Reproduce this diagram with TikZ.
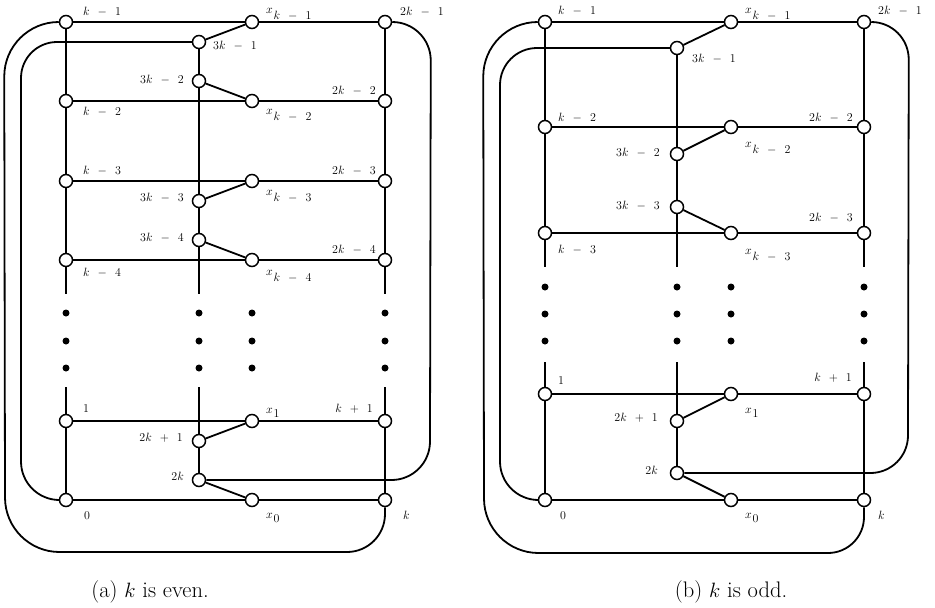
\documentclass[tikz,border=0pt]{standalone}
\newcommand{\Mn}{\;\,-\;\,}
\newcommand{\Pl}{\;\,+\;\,}
\newcommand{\Xl}[2]{$x\kern0.8pt\lower#1pt\hbox{$#2$}$}
\tikzset{
  v/.style={circle,draw,fill=white,minimum size=13pt,inner sep=0pt,line width=1.5pt},
  e/.style={line width=1.8pt},
  lab/.style={font=\fontsize{12}{14}\selectfont,inner sep=0pt},
  capstyle/.style={font=\fontsize{22.5}{26}\selectfont,inner sep=0pt,anchor=base},
}
\begin{document}
\begin{tikzpicture}[x=1pt,y=-1pt]
\useasboundingbox (0,0) rectangle (935,608);
% ---------------- (a) ----------------
\coordinate (aLt) at (66,294); \coordinate (aLb) at (66,387);
\coordinate (aMt) at (199,294); \coordinate (aMb) at (199,387);
\coordinate (aRt) at (385,294); \coordinate (aRb) at (385,387);
\foreach \xx in {66,199,252,385} \foreach \yy in {313,341,368} \fill (\xx,\yy) circle[radius=3.5];
\node[v] (a1) at (66,22) {};
\node[v] (ax1) at (252,22) {};
\node[v] (a21) at (385,22) {};
\node[v] (a31) at (199,42) {};
\node[v] (a32) at (199,81) {};
\node[v] (a2) at (66,101) {};
\node[v] (ax2) at (252,101) {};
\node[v] (a22) at (385,101) {};
\node[v] (a3) at (66,181) {};
\node[v] (ax3) at (252,181) {};
\node[v] (a23) at (385,181) {};
\node[v] (a33) at (199,201) {};
\node[v] (a34) at (199,240) {};
\node[v] (a4) at (66,260) {};
\node[v] (ax4) at (252,260) {};
\node[v] (a24) at (385,260) {};
\node[v] (aone) at (66,421) {};
\node[v] (axone) at (252,421) {};
\node[v] (akp) at (385,421) {};
\node[v] (a2kp) at (199,441) {};
\node[v] (a2k) at (199,480) {};
\node[v] (azero) at (66,500) {};
\node[v] (axzero) at (252,500) {};
\node[v] (ak) at (385,500) {};
\draw[e] (a1) -- (ax1) -- (a21);
\draw[e] (ax1) -- (a31);
\draw[e] (a31) -- (a32) -- (a33) -- (a34) -- (aMt);
\draw[e] (a32) -- (ax2);
\draw[e] (a2) -- (ax2) -- (a22);
\draw[e] (a3) -- (ax3) -- (a23);
\draw[e] (ax3) -- (a33);
\draw[e] (a34) -- (ax4);
\draw[e] (a4) -- (ax4) -- (a24);
\draw[e] (a1) -- (a2) -- (a3) -- (a4) -- (aLt);
\draw[e] (a21) -- (a22) -- (a23) -- (a24) -- (aRt);
\draw[e] (aLb) -- (aone) -- (azero);
\draw[e] (aMb) -- (a2kp) -- (a2k);
\draw[e] (aRb) -- (akp) -- (ak);
\draw[e] (aone) -- (axone) -- (akp);
\draw[e] (axone) -- (a2kp);
\draw[e] (a2k) -- (axzero);
\draw[e] (azero) -- (axzero) -- (ak);
\draw[e] (a1.west) arc[start angle=270,end angle=180,radius=54.5] -- (5,497.5)
  arc[start angle=180,end angle=90,radius=54.5] -- (347,552)
  arc[start angle=90,end angle=0,radius=38] -- (ak.south);
\draw[e] (a31.west) -- (57,42) arc[start angle=270,end angle=180,radius=36] -- (21,461.5)
  arc[start angle=180,end angle=90,radius=38.5] -- (azero.west);
\draw[e] (a21.east) arc[start angle=270,end angle=360,radius=38.5] -- (430,441.5)
  arc[start angle=0,end angle=90,radius=38.5] -- (a2k.east);
% labels (a)
\node[lab,anchor=base west] (la1) at (83,15) {$k\Mn1$};
\node[lab,anchor=base west] (lax1) at (266,13) {\Xl{6.5}{k\Mn1}};
\node[lab,anchor=base west] (la21) at (400,15) {$2k\Mn1$};
\node[lab,anchor=base west] (la31) at (213,49) {$3k\Mn1$};
\node[lab,anchor=base east] (la32) at (184,83) {$3k\Mn2$};
\node[lab,anchor=base west] (la2) at (83,115) {$k\Mn2$};
\node[lab,anchor=base west] (lax2) at (266,114) {\Xl{6.5}{k\Mn2}};
\node[lab,anchor=base east] (la22) at (376,94) {$2k\Mn2$};
\node[lab,anchor=base west] (la3) at (83,174) {$k\Mn3$};
\node[lab,anchor=base east] (la23) at (376,174) {$2k\Mn3$};
\node[lab,anchor=base east] (la33) at (184,201) {$3k\Mn3$};
\node[lab,anchor=base west] (lax3) at (266,195) {\Xl{6.5}{k\Mn3}};
\node[lab,anchor=base east] (la34) at (184,241) {$3k\Mn4$};
\node[lab,anchor=base east] (la24) at (376,253) {$2k\Mn4$};
\node[lab,anchor=base west] (la4) at (83,276) {$k\Mn4$};
\node[lab,anchor=base west] (lax4) at (266,275) {\Xl{6.5}{k\Mn4}};
\node[lab,anchor=base west] (laone) at (83,412) {$1$};
\node[lab,anchor=base west] (laxone) at (266,413) {\Xl{4.5}{1}};
\node[lab,anchor=base east] (lakp) at (373,412) {$k\Pl1$};
\node[lab,anchor=base east] (la2kp) at (183,441) {$2k\Pl1$};
\node[lab,anchor=base east] (la2k) at (184,480) {$2k$};
\node[lab,anchor=base west] (lazero) at (84,519) {$0$};
\node[lab,anchor=base west] (laxzero) at (266,518) {\Xl{4.5}{0}};
\node[lab,anchor=base west] (lak) at (403,519) {$k$};
\node[capstyle] (capa) at (150,597) {(a) $k$ is even.};
% ---------------- (b) ----------------
\coordinate (bLt) at (545,267); \coordinate (bLb) at (545,362);
\coordinate (bMt) at (677,267); \coordinate (bMb) at (677,362);
\coordinate (bRt) at (864,267); \coordinate (bRb) at (864,362);
\foreach \xx in {545,677,731,864} \foreach \yy in {287,314,341} \fill (\xx,\yy) circle[radius=3.5];
\node[v] (b1) at (545,22) {};
\node[v] (bx1) at (731,22) {};
\node[v] (b21) at (864,22) {};
\node[v] (b31) at (677,48) {};
\node[v] (b2) at (545,127) {};
\node[v] (bx2) at (731,127) {};
\node[v] (b22) at (864,127) {};
\node[v] (b32) at (677,154) {};
\node[v] (b33) at (677,207) {};
\node[v] (b3) at (545,233) {};
\node[v] (bx3) at (731,233) {};
\node[v] (b23) at (864,233) {};
\node[v] (bone) at (545,394) {};
\node[v] (bxone) at (731,394) {};
\node[v] (bkp) at (864,394) {};
\node[v] (b2kp) at (677,421) {};
\node[v] (b2k) at (677,473) {};
\node[v] (bzero) at (545,500) {};
\node[v] (bxzero) at (731,500) {};
\node[v] (bk) at (864,500) {};
\draw[e] (b1) -- (bx1) -- (b21);
\draw[e] (bx1) -- (b31);
\draw[e] (b31) -- (b32) -- (b33) -- (bMt);
\draw[e] (bx2) -- (b32);
\draw[e] (b2) -- (bx2) -- (b22);
\draw[e] (b33) -- (bx3);
\draw[e] (b3) -- (bx3) -- (b23);
\draw[e] (b1) -- (b2) -- (b3) -- (bLt);
\draw[e] (b21) -- (b22) -- (b23) -- (bRt);
\draw[e] (bLb) -- (bone) -- (bzero);
\draw[e] (bMb) -- (b2kp) -- (b2k);
\draw[e] (bRb) -- (bkp) -- (bk);
\draw[e] (bone) -- (bxone) -- (bkp);
\draw[e] (bxone) -- (b2kp);
\draw[e] (b2k) -- (bxzero);
\draw[e] (bzero) -- (bxzero) -- (bk);
\draw[e] (b1.west) arc[start angle=270,end angle=180,radius=54.5] -- (484,498.5)
  arc[start angle=180,end angle=90,radius=54.5] -- (828,553)
  arc[start angle=90,end angle=0,radius=36] -- (bk.south);
\draw[e] (b31.west) -- (537,48) arc[start angle=270,end angle=180,radius=37] -- (500,461.5)
  arc[start angle=180,end angle=90,radius=38.5] -- (bzero.west);
\draw[e] (b21.east) arc[start angle=270,end angle=360,radius=37.5] -- (908,435.5)
  arc[start angle=0,end angle=90,radius=37.5] -- (b2k.east);
% labels (b)
\node[lab,anchor=base west] (lb1) at (558,14) {$k\Mn1$};
\node[lab,anchor=base west] (lbx1) at (745,13) {\Xl{6.5}{k\Mn1}};
\node[lab,anchor=base west] (lb21) at (878,14) {$2k\Mn1$};
\node[lab,anchor=base west] (lb31) at (692,62) {$3k\Mn1$};
\node[lab,anchor=base west] (lb2) at (558,121) {$k\Mn2$};
\node[lab,anchor=base east] (lb22) at (853,121) {$2k\Mn2$};
\node[lab,anchor=base west] (lbx2) at (745,147) {\Xl{6.5}{k\Mn2}};
\node[lab,anchor=base east] (lb32) at (660,156) {$3k\Mn2$};
\node[lab,anchor=base east] (lb33) at (660,209) {$3k\Mn3$};
\node[lab,anchor=base east] (lb23) at (853,221) {$2k\Mn3$};
\node[lab,anchor=base west] (lb3) at (558,253) {$k\Mn3$};
\node[lab,anchor=base west] (lbx3) at (745,254) {\Xl{6.5}{k\Mn3}};
\node[lab,anchor=base west] (lbone) at (558,384) {$1$};
\node[lab,anchor=base east] (lbkp) at (852,381) {$k\Pl1$};
\node[lab,anchor=base east] (lb2kp) at (658,421) {$2k\Pl1$};
\node[lab,anchor=base west] (lbxone) at (745,413) {\Xl{4.5}{1}};
\node[lab,anchor=base east] (lb2k) at (658,474) {$2k$};
\node[lab,anchor=base west] (lbzero) at (560,519) {$0$};
\node[lab,anchor=base west] (lbxzero) at (745,518) {\Xl{4.5}{0}};
\node[lab,anchor=base west] (lbk) at (878,519) {$k$};
\node[capstyle] (capb) at (731,597) {(b) $k$ is odd.};
\end{tikzpicture}
\end{document}
